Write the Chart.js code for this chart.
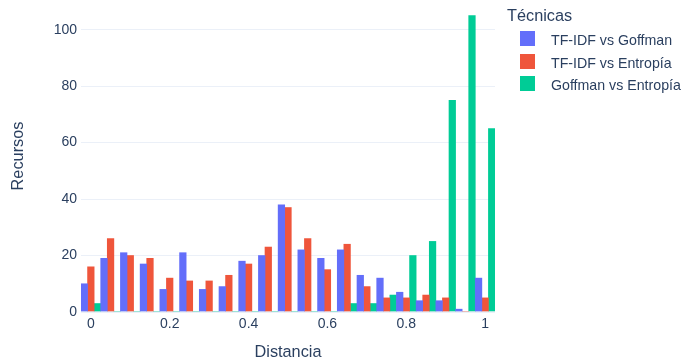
<!DOCTYPE html>
<html>
<head>
<meta charset="utf-8">
<script src="https://cdn.jsdelivr.net/npm/chart.js@4/dist/chart.umd.min.js"></script>
<style>
  html,body{ margin:0; padding:0; background:#fff; }
  #wrap{ position:relative; width:684px; height:362px; font-family:"Liberation Sans", Arial, sans-serif; color:#2a3f5f; }
  #legend{ position:absolute; left:0; top:0; }
  #legend .ttl{ position:absolute; left:507px; top:6px; font-size:16.3px; line-height:19px; white-space:nowrap; }
  #legend .it{ position:absolute; left:520px; font-size:14.2px; line-height:16px; white-space:nowrap; }
  #legend .it i{ position:absolute; left:0; top:-1px; width:15px; height:15px; }
  #legend .it span{ position:absolute; left:31px; top:0; }
</style>
</head>
<body>
<div id="wrap">
  <canvas id="c" width="684" height="362"></canvas>
  <div id="legend"></div>
</div>
<script>
// bins de 0.05 (centros)
const distancias = ['0','0.05','0.1','0.15','0.2','0.25','0.3','0.35','0.4','0.45','0.5','0.55','0.6','0.65','0.7','0.75','0.8','0.85','0.9','0.95','1'];
const tickLabels = { 0:'0', 4:'0.2', 8:'0.4', 12:'0.6', 16:'0.8', 20:'1' };

const tfidfGoffman  = [10,19,21,17, 8,21, 8, 9,18,20,38,22,19,22,13,12, 7, 4, 4, 1,12];
const tfidfEntropia = [16,26,20,19,12,11,11,13,17,23,37,26,15,24, 9, 5, 5, 6, 5, 0, 5];
const goffEntropia  = [ 3, 0, 0, 0, 0, 0, 0, 0, 0, 0, 0, 0, 0, 3, 3, 6,20,25,75,105,65];

const yTicks = [0,20,40,60,80,100];

const series = [
  { label:'TF-IDF vs Goffman',  data:tfidfGoffman,  color:'#636efa' },
  { label:'TF-IDF vs Entropía', data:tfidfEntropia, color:'#EF553B' },
  { label:'Goffman vs Entropía',data:goffEntropia,  color:'#00cc96' }
];

const FONT = '"Liberation Sans", Arial, sans-serif';
const INK = '#2a3f5f';
const GRID = '#EBF0F8';

new Chart(document.getElementById('c'), {
  type:'bar',
  data:{
    labels: distancias,
    datasets: series.map(s=>({
      label:s.label, data:s.data, backgroundColor:s.color, borderWidth:0,
      barPercentage:1, categoryPercentage:1
    }))
  },
  options:{
    responsive:false,
    devicePixelRatio:1,
    animation:false,
    layout:{ padding:{ left:0, right:189, top:0, bottom:0 } },
    plugins:{ legend:{ display:false }, tooltip:{ enabled:false } },
    scales:{
      x:{
        grid:{ display:false, drawTicks:false },
        border:{ display:false },
        ticks:{
          autoSkip:false, maxRotation:0, minRotation:0, padding:4,
          color:INK, font:{ family:FONT, size:14 },
          callback:(v,i)=> tickLabels[i] !== undefined ? tickLabels[i] : ''
        },
        title:{ display:true, text:'Distancia', color:INK, font:{ family:FONT, size:16.3 }, padding:{ top:0, bottom:0 } },
        afterFit:(s)=>{ s.height = 50; s.paddingLeft = 0; s.paddingRight = 0; }
      },
      y:{
        min:0, max:110.5,
        grid:{ color:GRID, drawTicks:false, lineWidth:(c)=> c.tick && c.tick.value === 0 ? 2 : 1 },
        border:{ display:false },
        afterBuildTicks:(s)=>{ s.ticks = yTicks.map(v=>({ value:v })); },
        ticks:{ padding:4, color:INK, font:{ family:FONT, size:14 } },
        title:{ display:true, text:'Recursos', color:INK, font:{ family:FONT, size:16.3 }, padding:{ top:9, bottom:0 } },
        afterFit:(s)=>{ s.width = 81; s.paddingTop = 0; s.paddingBottom = 0; }
      }
    }
  }
});

// leyenda
(function(){
  const lg = document.getElementById('legend');
  let html = '<div class="ttl">Técnicas</div>';
  series.forEach((s,i)=>{
    html += '<div class="it" style="top:'+(32 + i*22.5)+'px"><i style="background:'+s.color+'"></i><span>'+s.label+'</span></div>';
  });
  lg.innerHTML = html;
})();
</script>
</body>
</html>
